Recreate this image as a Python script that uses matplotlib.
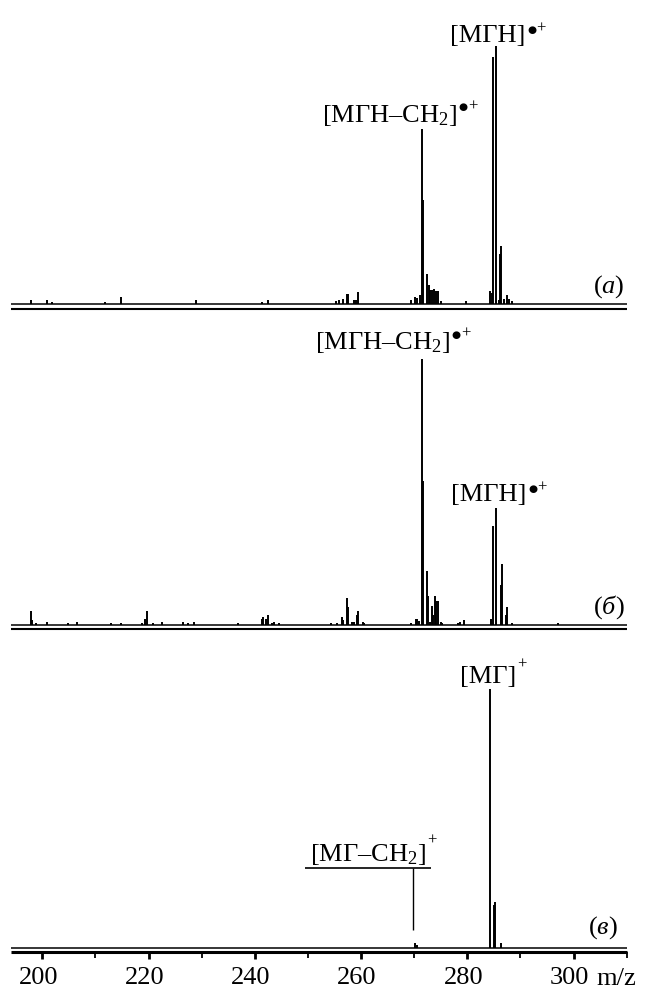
import matplotlib
matplotlib.use('Agg')
import matplotlib.pyplot as plt
from matplotlib.transforms import ScaledTranslation

plt.rcParams['font.family'] = ['Liberation Serif', 'DejaVu Serif']
plt.rcParams['mathtext.fontset'] = 'custom'
plt.rcParams['mathtext.rm'] = 'Liberation Serif'
plt.rcParams['mathtext.it'] = 'Liberation Serif:italic'
plt.rcParams['mathtext.bf'] = 'Liberation Serif:bold'

# ---------------- data (m/z, relative intensity %) ----------------
mz_a = [197.8, 200.9, 201.8, 211.8, 214.8, 228.9, 241.3, 242.4,
        255.3, 255.9, 256.6, 257.3, 257.6, 258.6, 259.1, 259.5,
        269.4, 270.2, 270.6, 271.1, 271.4, 271.7,
        272.4, 272.7, 273.0, 273.4, 273.8, 274.1, 274.5, 275.0,
        279.7, 284.3, 284.6, 284.9, 285.4,
        286.0, 286.2, 286.4, 286.9, 287.5, 287.8, 288.5]
int_a = [1.4, 1.4, 0.7, 0.7, 2.7, 1.4, 0.7, 1.4,
         0.8, 1.2, 1.6, 3.5, 3.5, 1.4, 1.4, 4.5,
         1.4, 2.7, 2.3, 3.3, 67.8, 40.2,
         11.5, 7.2, 5.2, 5.4, 5.8, 5.0, 4.7, 0.8,
         0.8, 4.7, 3.9, 95.9, 100,
         1.4, 19.4, 22.5, 1.6, 3.3, 1.9, 0.8]

mz_b = [197.8, 198.1, 198.8, 200.9, 204.8, 206.6,
        212.9, 214.8, 218.7, 219.3, 219.7, 220.8,
        222.6, 226.4, 227.5, 228.6, 236.8,
        241.3, 241.6, 242.1, 242.4, 243.2, 243.6, 244.6,
        254.3, 255.4, 256.4, 256.6, 257.3, 257.6,
        258.3, 258.7, 259.2, 259.4, 260.3, 260.5,
        269.4, 270.3, 270.6, 270.9,
        271.4, 271.7, 272.4, 272.6, 272.9, 273.3, 273.6, 273.9, 274.1, 274.5, 275.0, 275.3,
        278.3, 278.7, 279.4,
        284.4, 284.9, 285.4, 286.3, 286.5, 287.2, 287.5, 288.5,
        297.1]
int_b = [5.3, 1.9, 0.9, 1.2, 0.9, 1.4,
         0.9, 0.9, 0.9, 2.4, 5.4, 0.9,
         1.1, 1.2, 0.9, 1.4, 0.9,
         2.4, 3.1, 2.4, 4.0, 1.0, 1.2, 0.9,
         0.9, 0.9, 3.0, 1.9, 10.2, 6.8,
         1.1, 1.1, 3.8, 5.3, 1.1, 0.9,
         0.8, 2.3, 2.3, 1.5,
         100, 54.1, 20.3, 10.9, 1.1, 7.1, 3.8, 10.9, 9.0, 9.0, 1.1, 0.8,
         0.8, 1.1, 1.9,
         2.3, 37.2, 44.0, 15.0, 22.9, 3.8, 6.8, 0.8,
         0.8]

mz_c = [270.2, 270.6, 284.3, 285.0, 285.2, 286.4]
int_c = [1.9, 1.2, 100, 16.5, 17.8, 1.9]

major_ticks = [200, 220, 240, 260, 280, 300]
minor_ticks = [210, 230, 250, 270, 290, 310]
x_label = 'm/z'

# label body, superscript
labels_a = [('[MΓH]', '•+'), ('[MΓH–CH$_2$]', '•+')]
labels_b = [('[MΓH–CH$_2$]', '•+'), ('[MΓH]', '•+')]
labels_c = [('[MΓ]', '+'), ('[MΓ–CH$_2$]', '+')]
panel_tags = [r'($\mathit{a}$)', r'($\mathit{б}$)', r'($\mathit{в}$)']

# ---------------- layout (pixels) ----------------
W, H = 645, 990
XMIN, XMAX = 194.1, 310.0
XL, XR = 11.0, 626.7
FS = 19

fig = plt.figure(figsize=(W / 100, H / 100), dpi=100)


def mz_at(px):
    return XMIN + (px - XL) * (XMAX - XMIN) / (XR - XL)


def make_panel(mz, inten, base, thick, peak, top, spine_lw):
    k = peak / 100.0
    ax = fig.add_axes([XL / W, 1 - thick / H, (XR - XL) / W, (thick - top) / H])
    ax.set_xlim(XMIN, XMAX)
    ax.set_ylim(-(thick - base) / k, (base - top) / k)
    for s in ['top', 'left', 'right']:
        ax.spines[s].set_visible(False)
    ax.spines['bottom'].set_linewidth(spine_lw)
    ax.spines['bottom'].set_capstyle('butt')
    ax.set_yticks([])
    ax.axhline(0, color='black', lw=1.1, solid_capstyle='butt')
    ax.vlines(mz, 0, inten, colors='black', linewidth=1.4)
    ax.patch.set_alpha(0)
    return ax, k, base


def put(ax, k, base, s, xpx, ypx, ha='left', va='baseline'):
    return ax.text(mz_at(xpx), (base - ypx) / k, s, fontsize=FS, ha=ha, va=va)


def put_ion(ax, k, base, parts, xpx, ypx):
    body, sup = parts
    t = put(ax, k, base, body, xpx, ypx)
    if sup.startswith('•'):
        dot = ax.annotate('●', xy=(1, 1), xycoords=t, xytext=(1.2, 0.3),
                          textcoords='offset points', ha='left', va='top',
                          fontsize=7.5, family='DejaVu Sans')
        ax.annotate(sup[1:], xy=(1, 0.5), xycoords=dot, xytext=(0.2, 0.6),
                    textcoords='offset points', ha='left', va='center', fontsize=12)
    else:
        ax.annotate(sup, xy=(1, 1), xycoords=t, xytext=(0.5, 6.5),
                    textcoords='offset points', ha='left', va='top', fontsize=12)
    return t


# panel (a)
ax1, k1, b1 = make_panel(mz_a, int_a, 303.5, 309.0, 257.5, 20, 1.5)
ax1.set_xticks([])
put_ion(ax1, k1, b1, labels_a[0], 450, 42)
put_ion(ax1, k1, b1, labels_a[1], 321.7, 121.7)
put(ax1, k1, b1, panel_tags[0], 625, 286.7, ha='right', va='center')

# panel (б)
ax2, k2, b2 = make_panel(mz_b, int_b, 625.3, 629.0, 266.0, 340, 1.5)
ax2.set_xticks([])
put_ion(ax2, k2, b2, labels_b[0], 315, 349.3)
put_ion(ax2, k2, b2, labels_b[1], 451, 501)
put(ax2, k2, b2, panel_tags[1], 625, 606.7, ha='right', va='center')

# panel (в)
ax3, k3, b3 = make_panel(mz_c, int_c, 947.7, 952.3, 258.4, 660, 2.2)
put_ion(ax3, k3, b3, labels_c[0], 460, 682.7)
put_ion(ax3, k3, b3, labels_c[1], 310, 860.7)
put(ax3, k3, b3, panel_tags[2], 618, 928, ha='right', va='center')
# underline and leader line to the small peak
ax3.plot([mz_at(305), mz_at(431)], [(b3 - 868.3) / k3] * 2, color='black', lw=1.2,
         solid_capstyle='butt', clip_on=False)
ax3.plot([mz_at(413.3)] * 2, [(b3 - 868.3) / k3, (b3 - 930) / k3], color='black', lw=1.0,
         solid_capstyle='butt', clip_on=False)

ax3.set_xticks(major_ticks)
ax3.set_xticks(minor_ticks, minor=True)
ax3.set_xticklabels([str(t) for t in major_ticks])
ax3.tick_params(axis='x', which='major', direction='out', length=5, width=2.0,
                labelsize=FS, pad=5.5)
ax3.tick_params(axis='x', which='minor', direction='out', length=4.5, width=1.3)
off = ScaledTranslation(-4 / 100, 0, fig.dpi_scale_trans)
for lab in ax3.get_xticklabels():
    lab.set_transform(lab.get_transform() + off)
ax3.annotate(x_label, xy=(mz_at(596), 0), xycoords=('data', 'axes fraction'),
             xytext=(0, -23.2), textcoords='offset points', ha='left', va='baseline',
             fontsize=FS, annotation_clip=False)

fig.savefig('out.png', dpi=100)
